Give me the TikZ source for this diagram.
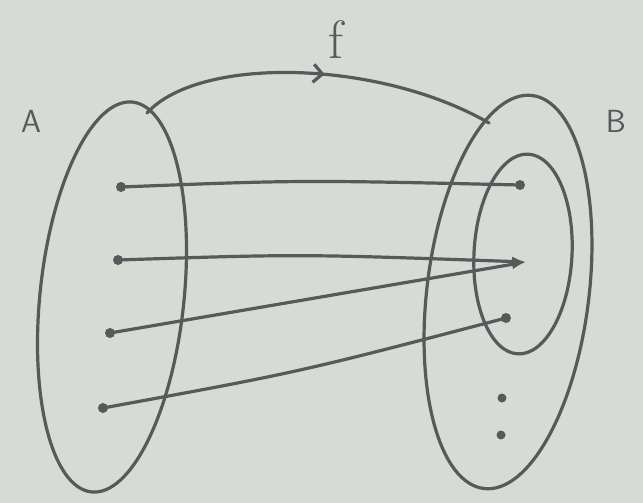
\documentclass[tikz,border=0pt]{standalone}
\usetikzlibrary{shapes.geometric,arrows.meta,decorations.markings}
\definecolor{paper}{RGB}{214,219,213}
\definecolor{pencil}{RGB}{85,90,90}
\tikzset{
  setoval/.style={draw=pencil, line width=3.2pt, ellipse, inner sep=0pt},
  mapline/.style={draw=pencil, line width=3.2pt, line cap=round},
  elem/.style={circle, fill=pencil, minimum size=10pt, inner sep=0pt},
  lbl/.style={text=pencil, font=\sffamily\fontsize{32}{32}\selectfont},
}
\begin{document}
\begin{tikzpicture}[x=1pt,y=-1pt]
\fill[paper] (0,0) rectangle (643,503);
\useasboundingbox (0,0) rectangle (643,503);
% set ovals
\node[setoval, minimum width=144pt, minimum height=392pt, rotate=-6] (A) at (112,297) {};
\node[setoval, minimum width=162pt, minimum height=396pt, rotate=-7] (B) at (508,292) {};
\node[setoval, minimum width=98pt, minimum height=200pt, rotate=-3] (C) at (523,254) {};
% labels
\node[lbl] (la) at (31,121) {A};
\node[lbl] (lb) at (616,121) {B};
\node[text=pencil, font=\fontsize{54}{54}\selectfont] (lf) at (336,40) {f};
% elements
\node[elem] (a1) at (121,187) {};
\node[elem] (a2) at (118,260) {};
\node[elem] (a3) at (110,333) {};
\node[elem] (a4) at (103,408) {};
\node[elem] (b1) at (520,185) {};
\coordinate (b2) at (526,262);
\node[elem] (b3) at (506,318) {};
\node[elem, minimum size=9pt] (d1) at (502,398) {};
\node[elem, minimum size=9pt] (d2) at (501,435) {};
% mapping arrows
\draw[mapline] (a1.center) .. controls (300,180) .. (b1.center);
\draw[mapline, -{Latex[length=14pt,width=10pt]}] (a2.center) .. controls (300,254) .. (b2);
\draw[mapline, -{Latex[length=14pt,width=10pt]}] (a3.center) -- (b2);
\draw[mapline] (a4.center) .. controls (300,372) .. (b3.center);
% f arc
\coordinate (fs) at (147,113);
\coordinate (fe) at (489,123);
\draw[mapline, postaction={decorate}, decoration={markings, mark=at position 0.52 with {\arrow{Straight Barb[length=9pt,width=18pt,line width=3.2pt]}}}]
  (fs) .. controls (200,55) and (380,60) .. (fe);
\end{tikzpicture}
\end{document}
